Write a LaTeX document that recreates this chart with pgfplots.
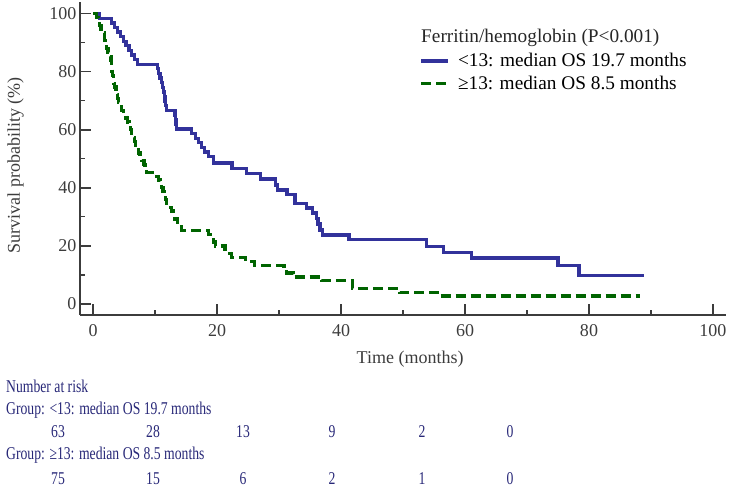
\documentclass[border=0pt]{standalone}
\usepackage{fontspec}
\setmainfont{Liberation Serif}
\usepackage{pgfplots}
\pgfplotsset{compat=1.18}
\definecolor{kmblue}{RGB}{50,50,155}
\definecolor{kmgreen}{RGB}{0,100,0}
\definecolor{risktxt}{RGB}{40,40,120}
\definecolor{axisgray}{RGB}{60,60,60}
\newcommand{\f}{\fontsize{18bp}{21bp}\selectfont}
\newcommand{\fl}{\fontsize{19.3bp}{22bp}\selectfont}
\newcommand{\rt}[1]{\scalebox{0.76}[1]{#1}}
\pgfplotsset{
  every non boxed x axis/.append style={xtick align=inside},
  every non boxed y axis/.append style={ytick align=inside},
}

\begin{document}
\begin{tikzpicture}[x=1bp,y=1bp]
\useasboundingbox (-80,-176) rectangle (651,315);
\begin{axis}[
  at={(0,0)}, anchor=south west,
  scale only axis, width=646bp, height=313bp,
  xmin=-2.1, xmax=102.1, ymin=-3.8, ymax=104,
  axis x line*=bottom, axis y line*=left,
  axis line style={-, line width=1.6bp, color=axisgray},
  xtick={0,20,...,100}, ytick={0,20,...,100},
  minor xtick={10,30,...,90}, minor ytick={10,30,...,90},
  xtick align=inside, ytick align=inside,
  major tick length=11bp, minor tick length=5bp,
  major tick style={line width=1.6bp, color=axisgray},
  minor tick style={line width=1.2bp, color=axisgray},
  /pgf/number format/assume math mode=true,
  tick label style={font=\f, color=axisgray},
  xticklabel style={yshift=-6bp},
  xlabel={Time (months)}, ylabel={Survival probability (\%)},
  label style={font=\f, color=axisgray},
  xlabel style={at={(axis description cs:0.511,-0.14)}, anchor=center},
  ylabel style={at={(axis description cs:-0.0998,0.479)}, anchor=center},
  clip=false,
  legend cell align=left,
  legend image code/.code={\draw[#1] (0bp,0bp) -- (27bp,0bp);},
  legend style={at={(axis description cs:0.521,0.849)}, anchor=north west,
    draw=none, fill=none, font=\fl, row sep=3.5bp,
    /tikz/every odd column/.append style={column sep=6bp}},
]
% group <13
\addplot[const plot, kmblue, line width=3.3bp] coordinates {
(0,100)(1.1,98.4)(3.0,96.8)(3.5,95.2)(4.0,93.7)(4.4,92.1)(4.9,90.5)(5.3,88.9)
(5.8,87.3)(6.2,85.7)(6.7,84.1)(7.2,82.5)
(10.4,81.0)(10.6,79.4)(10.8,77.8)(11.0,76.2)(11.2,74.6)(11.4,73.0)(11.5,71.4)
(11.6,69.8)(11.7,68.3)(11.8,66.7)
(13.2,65.1)(13.3,63.5)(13.4,61.9)(13.5,60.3)
(15.9,58.7)(16.5,57.1)(17.0,55.5)(17.5,53.9)(18.0,52.3)(18.6,50.7)(19.4,48.5)
(22.4,46.6)(24.8,45.0)(27.0,43.0)(29.4,41.0)(29.7,39.3)(31.3,37.6)(32.6,34.7)
(34.4,33.0)(35.4,31.3)(36.0,29.5)(36.3,27.5)(36.6,25.5)(37.0,23.8)
(41.3,22.1)(53.8,19.8)(56.5,17.7)(61.1,15.8)(75.0,13.2)(78.4,9.8)(88.8,9.8)
};
\addlegendentry{<13: median OS 19.7 months}
% group >=13
\addplot[const plot, kmgreen, line width=3.3bp, dash pattern=on 10bp off 5bp] coordinates {
(0,100)(0.6,98.7)(0.9,97.3)(1.1,96.0)(1.3,94.7)(1.6,93.3)(1.8,92.0)(1.9,90.7)
(2.0,89.3)(2.2,88.0)(2.4,86.7)(2.7,85.3)(2.9,84.0)(2.95,82.7)(3.0,81.3)(3.05,80.0)
(3.1,78.7)(3.3,77.3)(3.4,76.0)(3.5,74.7)(3.7,73.3)(3.9,72.0)(4.0,70.7)(4.1,69.3)
(4.3,68.0)(4.6,66.7)(4.9,65.3)(5.3,64.0)(5.6,62.7)(5.8,61.3)(6.0,60.0)(6.2,58.7)
(6.5,57.3)(6.7,56.0)(6.9,54.7)(7.1,53.3)(7.3,52.0)(7.6,50.7)(7.9,49.3)(8.2,48.0)
(8.4,46.7)(8.6,45.3)
(10.3,44.0)(10.6,42.7)(10.9,41.3)(11.1,40.0)(11.3,38.7)(11.5,37.3)(11.7,36.0)
(11.9,34.7)(12.3,33.3)(12.7,32.0)(13.0,30.7)(13.2,29.3)(13.6,28.0)(14.0,26.7)
(14.3,25.3)
(18.6,24.0)(19.0,22.7)(19.4,21.3)(19.7,20.0)(21.3,18.7)(22.1,17.3)(22.3,16.0)
(24.6,14.7)(26.1,13.3)(30.8,12.0)(31.2,10.7)(32.3,9.3)(36.8,8.0)(41.8,5.3)
(49.5,4.0)(56.0,2.7)(88.2,2.7)
};
\addlegendentry{≥13: median OS 8.5 months}
\end{axis}
\node[anchor=west, inner sep=0pt, font=\fl, text=black!85] at (341,277) {Ferritin/hemoglobin (P<0.001)};
% number at risk table
\begin{scope}[every node/.style={font=\f, text=risktxt, inner sep=0pt}]
\node[anchor=west] at (-74,-71.7) {\rt{Number at risk}};
\node[anchor=west] at (-74,-95) {\rt{Group: <13: median OS 19.7 months}};
\node at (-22,-116.7) {\rt{63}};
\node at (73,-116.7) {\rt{28}};
\node at (163,-116.7) {\rt{13}};
\node at (252,-116.7) {\rt{9}};
\node at (342,-116.7) {\rt{2}};
\node at (430,-116.7) {\rt{0}};
\node[anchor=west] at (-74,-140) {\rt{Group: ≥13: median OS 8.5 months}};
\node at (-22,-163.3) {\rt{75}};
\node at (73,-163.3) {\rt{15}};
\node at (163,-163.3) {\rt{6}};
\node at (252,-163.3) {\rt{2}};
\node at (342,-163.3) {\rt{1}};
\node at (430,-163.3) {\rt{0}};
\end{scope}
\end{tikzpicture}
\end{document}
